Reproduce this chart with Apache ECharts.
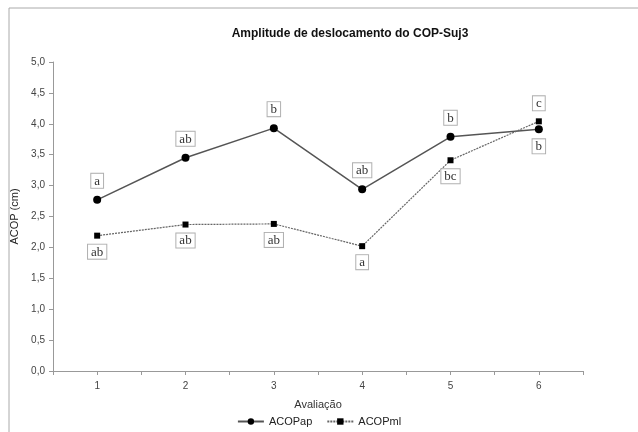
<!DOCTYPE html>
<html>
<head>
<meta charset="utf-8">
<script src="https://cdn.jsdelivr.net/npm/echarts@6/dist/echarts.min.js"></script>
<style>
html, body { margin: 0; padding: 0; background: #fff; }
#chart { width: 638px; height: 432px; }
</style>
</head>
<body>
<div id="chart"></div>
<script>
var avaliacoes = [1, 2, 3, 4, 5, 6];
var acopAp = [2.77, 3.45, 3.93, 2.94, 3.79, 3.91];
var acopMl = [2.19, 2.37, 2.38, 2.02, 3.41, 4.04];
var letrasAp = ['a', 'ab', 'b', 'ab', 'b', 'b'];
var letrasMl = ['ab', 'ab', 'ab', 'a', 'bc', 'c'];
var yTicks = [0, 0.5, 1, 1.5, 2, 2.5, 3, 3.5, 4, 4.5, 5];

var myChart = echarts.init(document.getElementById('chart'));

// monta os pontos com a letra e a posicao (acima da serie mais alta)
function montaSerie(valores, letras, outra) {
    return valores.map(function (v, i) {
        var acima = v >= outra[i];
        return {
            value: [avaliacoes[i], v],
            label: {
                formatter: letras[i],
                position: acima ? 'top' : 'bottom',
                distance: acima ? 8 : 6
            }
        };
    });
}

var labelBox = {
    show: true,
    fontFamily: 'Liberation Serif',
    fontSize: 13,
    color: '#333',
    backgroundColor: '#fff',
    borderColor: '#b0b0b0',
    borderWidth: 1,
    padding: [1, 3, 0, 3]
};

var option = {
    animation: false,
    textStyle: { fontFamily: 'Liberation Sans' },
    title: {
        text: 'Amplitude de deslocamento do COP-Suj3',
        left: 345,
        top: 23,
        textAlign: 'center',
        textStyle: { fontSize: 12, fontWeight: 'bold', color: '#111', fontFamily: 'Liberation Sans' }
    },
    graphic: [{
        type: 'rect',
        shape: { x: 9, y: 8, width: 700, height: 500 },
        style: { fill: 'none', stroke: '#aaa', lineWidth: 1 },
        silent: true
    }],
    legend: {
        bottom: 0,
        left: 'center',
        itemWidth: 26,
        itemHeight: 8,
        itemGap: 14,
        textStyle: { fontSize: 11, color: '#222' },
        data: ['ACOPap', 'ACOPml']
    },
    grid: { left: 53, right: 55, top: 62, bottom: 61, outerBoundsMode: 'none' },
    xAxis: {
        type: 'value',
        min: 0.5,
        max: 6.5,
        interval: 0.5,
        name: 'Avaliação',
        nameLocation: 'middle',
        nameGap: 28,
        nameTextStyle: { fontSize: 11, color: '#333' },
        axisLine: { lineStyle: { color: '#999' } },
        axisTick: { show: true, length: 4, inside: false, lineStyle: { color: '#999' } },
        axisLabel: {
            color: '#444',
            fontSize: 10,
            margin: 10,
            formatter: function (v) {
                return avaliacoes.indexOf(v) >= 0 ? String(v) : '';
            }
        },
        splitLine: { show: false }
    },
    yAxis: {
        type: 'value',
        min: 0,
        max: 5,
        interval: 0.5,
        name: 'ACOP (cm)',
        nameLocation: 'middle',
        nameGap: 27,
        nameTextStyle: { fontSize: 11, color: '#222' },
        axisLine: { show: true, lineStyle: { color: '#999' } },
        axisTick: { show: true, length: 4, lineStyle: { color: '#999' } },
        axisLabel: {
            color: '#444',
            fontSize: 10,
            margin: 8,
            formatter: function (v) {
                return yTicks.indexOf(v) >= 0 ? v.toFixed(1).replace('.', ',') : '';
            }
        },
        splitLine: { show: false }
    },
    series: [
        {
            name: 'ACOPap',
            type: 'line',
            symbol: 'circle',
            symbolSize: 8,
            itemStyle: { color: '#000' },
            lineStyle: { color: '#555', width: 1.5 },
            label: labelBox,
            data: montaSerie(acopAp, letrasAp, acopMl)
        },
        {
            name: 'ACOPml',
            type: 'line',
            symbol: 'rect',
            symbolSize: 6,
            itemStyle: { color: '#000' },
            lineStyle: { color: '#666', width: 1.2, type: [2, 1] },
            label: labelBox,
            data: montaSerie(acopMl, letrasMl, acopAp)
        }
    ]
};

myChart.setOption(option);
</script>
</body>
</html>
